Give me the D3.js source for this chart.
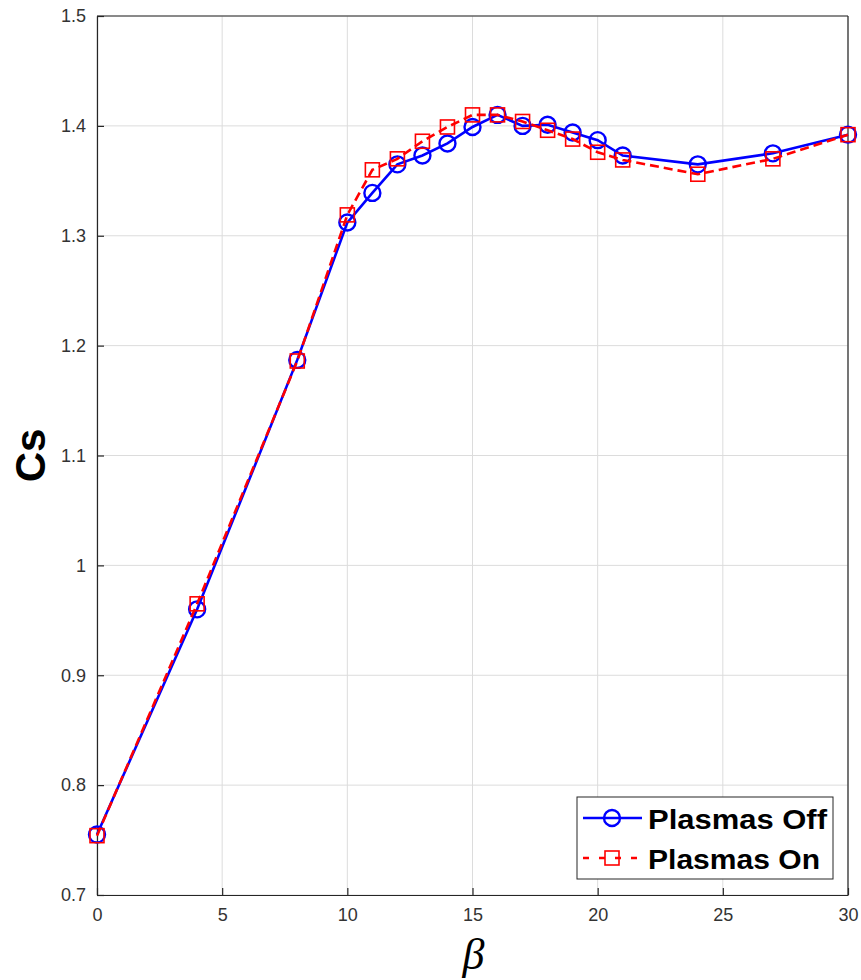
<!DOCTYPE html>
<html><head><meta charset="utf-8">
<script src="https://cdn.jsdelivr.net/npm/d3@7"></script>
<style>body{margin:0;background:#fff;} svg{display:block;}</style>
</head><body>
<script>
const betaValues = [0, 4, 8, 10, 11, 12, 13, 14, 15, 16, 17, 18, 19, 20, 21, 24, 27, 30];
const plasmasOff = [0.755, 0.960, 1.187, 1.312, 1.339, 1.365, 1.373, 1.384, 1.399, 1.410, 1.400, 1.401, 1.394, 1.387, 1.373, 1.365, 1.375, 1.392];
const plasmasOn  = [0.754, 0.965, 1.186, 1.319, 1.360, 1.370, 1.386, 1.399, 1.410, 1.410, 1.404, 1.396, 1.388, 1.376, 1.369, 1.356, 1.370, 1.392];
const xTicks = [0, 5, 10, 15, 20, 25, 30];
const yTicks = [0.7, 0.8, 0.9, 1.0, 1.1, 1.2, 1.3, 1.4, 1.5];
const seriesNames = ["Plasmas Off", "Plasmas On"];

const W = 861, H = 980;
const m = {left: 97, right: 13, top: 16, bottom: 85};
const svg = d3.select("body").append("svg").attr("width", W).attr("height", H);
const x = d3.scaleLinear().domain([0, 30]).range([m.left, W - m.right]);
const y = d3.scaleLinear().domain([0.7, 1.5]).range([H - m.bottom, m.top]);
const font = "Liberation Sans, Arial, sans-serif";

// grid
svg.append("g").selectAll("line").data(xTicks).join("line")
  .attr("x1", d => x(d)).attr("x2", d => x(d)).attr("y1", y(0.7)).attr("y2", y(1.5))
  .attr("stroke", "#dcdcdc").attr("stroke-width", 1);
svg.append("g").selectAll("line").data(yTicks).join("line")
  .attr("y1", d => y(d)).attr("y2", d => y(d)).attr("x1", x(0)).attr("x2", x(30))
  .attr("stroke", "#dcdcdc").attr("stroke-width", 1);

// axes
const fmtY = d => (d === 1 ? "1" : d3.format(".1f")(d));
const xAxis = svg.append("g").attr("transform", `translate(0,${y(0.7)})`)
  .call(d3.axisBottom(x).tickValues(xTicks).tickSizeInner(-7).tickSizeOuter(0).tickPadding(13).tickFormat(d3.format("d")));
const yAxis = svg.append("g").attr("transform", `translate(${x(0)},0)`)
  .call(d3.axisLeft(y).tickValues(yTicks).tickSizeInner(-7).tickSizeOuter(0).tickPadding(11).tickFormat(fmtY));
[xAxis, yAxis].forEach(a => {
  a.selectAll("path").attr("stroke", "#262626").attr("stroke-width", 1.2);
  a.selectAll("line").attr("stroke", "#262626").attr("stroke-width", 1.2);
  a.selectAll("text").attr("fill", "#333").style("font-family", font).style("font-size", "18px");
});
// top and right box lines
svg.append("line").attr("x1", x(0)).attr("x2", x(30)).attr("y1", y(1.5)).attr("y2", y(1.5)).attr("stroke", "#262626").attr("stroke-width", 1.2);
svg.append("line").attr("x1", x(30)).attr("x2", x(30)).attr("y1", y(1.5)).attr("y2", y(0.7)).attr("stroke", "#262626").attr("stroke-width", 1.2);

// lines
const offData = betaValues.map((b, i) => [b, plasmasOff[i]]);
const onData = betaValues.map((b, i) => [b, plasmasOn[i]]);
const line = d3.line().x(d => x(d[0])).y(d => y(d[1]));

svg.append("path").datum(offData).attr("d", line).attr("fill", "none")
  .attr("stroke", "#0000ff").attr("stroke-width", 2.6);
svg.append("g").selectAll("circle").data(offData).join("circle")
  .attr("cx", d => x(d[0])).attr("cy", d => y(d[1])).attr("r", 8)
  .attr("fill", "none").attr("stroke", "#0000ff").attr("stroke-width", 2.4);

svg.append("path").datum(onData).attr("d", line).attr("fill", "none")
  .attr("stroke", "#ff0000").attr("stroke-width", 2.6).attr("stroke-dasharray", "9,5");
const s = 14;
svg.append("g").selectAll("rect").data(onData).join("rect")
  .attr("x", d => x(d[0]) - s / 2).attr("y", d => y(d[1]) - s / 2).attr("width", s).attr("height", s)
  .attr("fill", "none").attr("stroke", "#ff0000").attr("stroke-width", 1.6);

// axis labels
svg.append("text").attr("transform", `translate(45,${(y(0.7) + y(1.5)) / 2}) rotate(-90)`)
  .attr("text-anchor", "middle").style("font-family", font).style("font-size", "42px").style("font-weight", "bold")
  .attr("fill", "#000").text("Cs");
svg.append("text").attr("x", (x(0) + x(30)) / 2 + 1).attr("y", 969)
  .attr("text-anchor", "middle").style("font-family", "Liberation Serif, Times New Roman, serif").style("font-size", "44px").style("font-style", "italic")
  .attr("fill", "#000").text("β");

// legend
const lg = svg.append("g").attr("transform", "translate(577,797)");
lg.append("rect").attr("width", 256).attr("height", 82).attr("fill", "#fff").attr("stroke", "#262626").attr("stroke-width", 1);
const rows = [
  {name: seriesNames[0], color: "#0000ff", dash: null, marker: "circle", yy: 21, w: 179},
  {name: seriesNames[1], color: "#ff0000", dash: "9,5", marker: "rect", yy: 61, w: 172}
];
rows.forEach(r => {
  lg.append("line").attr("x1", 6).attr("x2", 65).attr("y1", r.yy).attr("y2", r.yy)
    .attr("stroke", r.color).attr("stroke-width", 2.6).attr("stroke-dasharray", r.dash ? "6,10" : null);
  if (r.marker === "circle") {
    lg.append("circle").attr("cx", 35).attr("cy", r.yy).attr("r", 8).attr("fill", "none").attr("stroke", r.color).attr("stroke-width", 2.4);
  } else {
    lg.append("rect").attr("x", 35 - s / 2).attr("y", r.yy - s / 2).attr("width", s).attr("height", s).attr("fill", "none").attr("stroke", r.color).attr("stroke-width", 1.6);
  }
  lg.append("text").attr("x", 71).attr("y", r.yy + 11).style("font-family", font).style("font-size", "27px").style("font-weight", "bold")
    .attr("textLength", r.w).attr("lengthAdjust", "spacingAndGlyphs")
    .attr("fill", "#000").text(r.name);
});
</script>
</body></html>
